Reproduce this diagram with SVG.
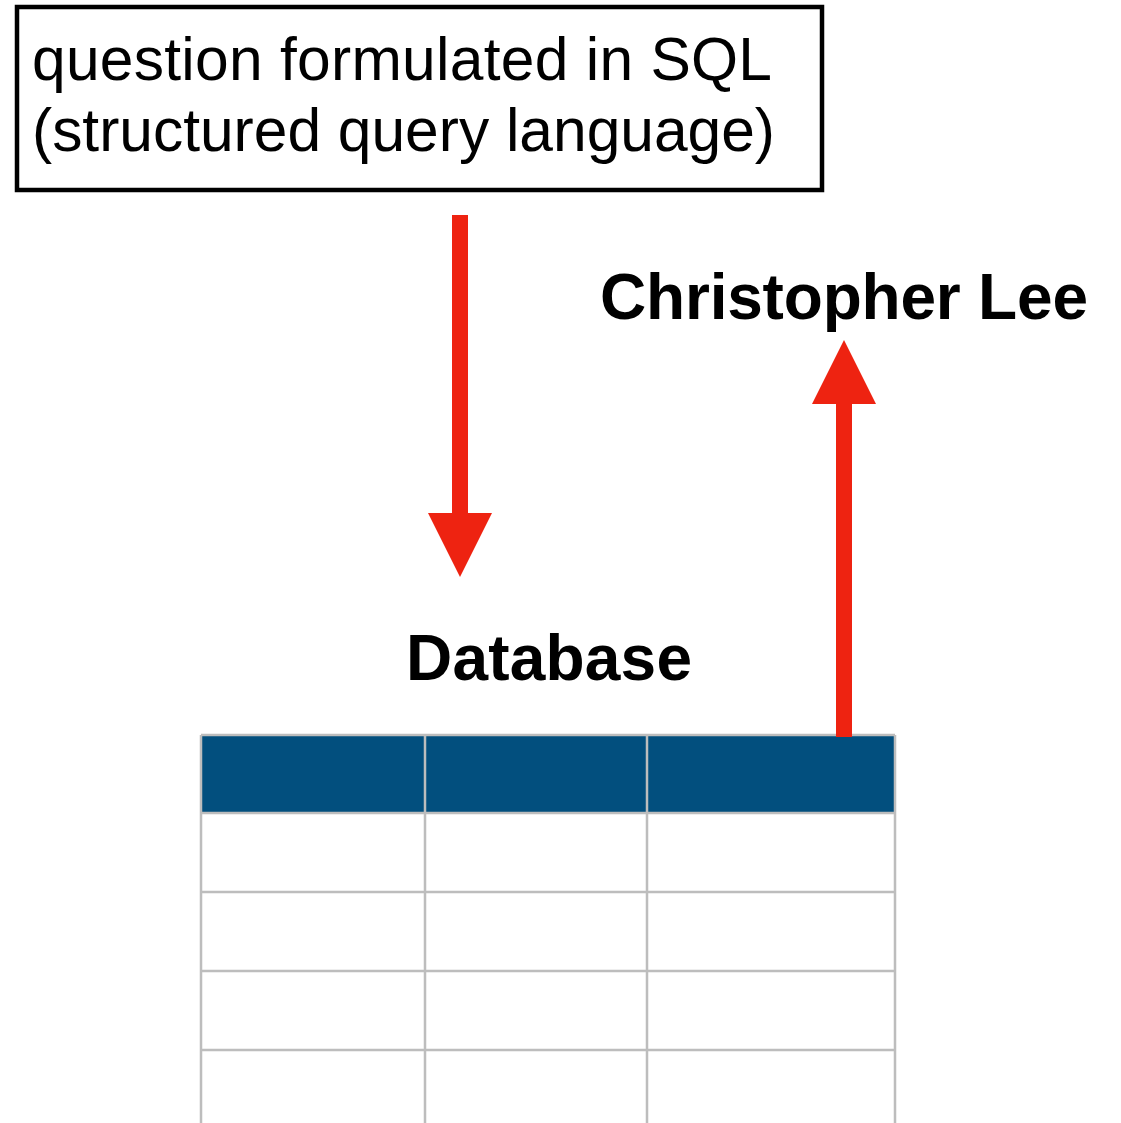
<svg xmlns="http://www.w3.org/2000/svg" width="1121" height="1123" viewBox="0 0 1121 1123">
<style>
.lbl{font-family:"Liberation Sans",Arial,sans-serif;fill:#000}
.bold{font-weight:bold}
.grid{stroke:#bdbdbd;stroke-width:2.5;fill:none}
.arrow{fill:#ee2311}
</style>
<rect width="1121" height="1123" fill="#fff"/>
<g id="question">
<rect x="17" y="7" width="805" height="183" fill="#fff" stroke="#000" stroke-width="4.5"/>
<text class="lbl" x="32" y="80" font-size="60.5" textLength="740" lengthAdjust="spacing">question formulated in SQL</text>
<text class="lbl" x="32" y="151" font-size="60.5" textLength="743" lengthAdjust="spacing">(structured query language)</text>
</g>
<g id="answer">
<text class="lbl bold" x="600" y="319" font-size="64" textLength="488" lengthAdjust="spacing">Christopher Lee</text>
</g>
<g id="database">
<text class="lbl bold" x="406" y="680" font-size="64" textLength="286" lengthAdjust="spacing">Database</text>
<rect x="201" y="735" width="694" height="78" fill="#024f7e"/>
<path class="grid" d="M201 735H895M201 813H895M201 892H895M201 971H895M201 1050H895M201 735V1123M425 735V1123M647 735V1123M895 735V1123"/>
</g>
<g id="connectors">
<path class="arrow" d="M452 215H468V513H492L460 577L428 513H452Z"/>
<path class="arrow" d="M836 737V404H812L844 340L876 404H852V737Z"/>
</g>
</svg>
